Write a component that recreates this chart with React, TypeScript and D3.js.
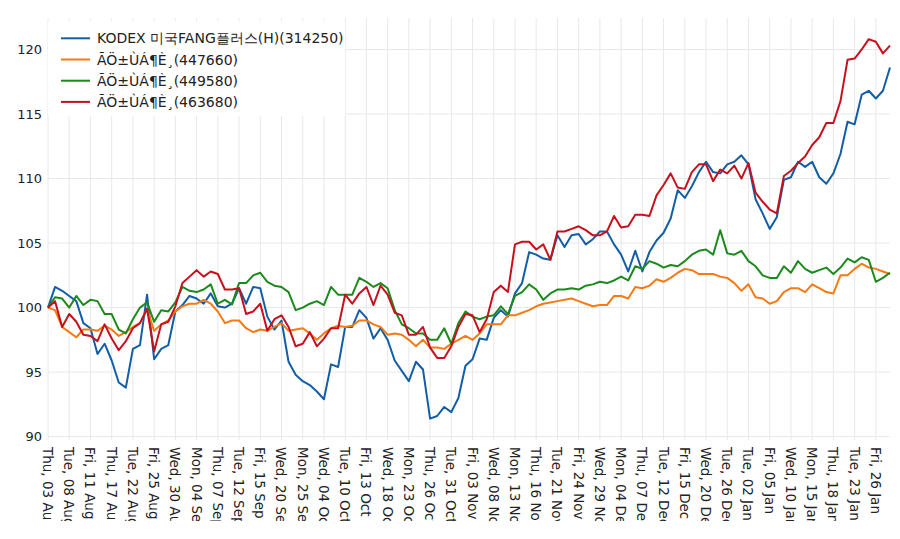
import React from 'react';
import * as d3 from 'd3';

const dates: string[] = [
  '2023-08-03','2023-08-04','2023-08-07','2023-08-08','2023-08-09','2023-08-10','2023-08-11','2023-08-14','2023-08-16','2023-08-17',
  '2023-08-18','2023-08-21','2023-08-22','2023-08-23','2023-08-24','2023-08-25','2023-08-28','2023-08-29','2023-08-30','2023-08-31',
  '2023-09-01','2023-09-04','2023-09-05','2023-09-06','2023-09-07','2023-09-08','2023-09-11','2023-09-12','2023-09-13','2023-09-14',
  '2023-09-15','2023-09-18','2023-09-19','2023-09-20','2023-09-21','2023-09-22','2023-09-25','2023-09-26','2023-09-27',
  '2023-10-04','2023-10-05','2023-10-06','2023-10-10','2023-10-11','2023-10-12','2023-10-13','2023-10-16','2023-10-17','2023-10-18',
  '2023-10-19','2023-10-20','2023-10-23','2023-10-24','2023-10-25','2023-10-26','2023-10-27','2023-10-30','2023-10-31',
  '2023-11-01','2023-11-02','2023-11-03','2023-11-06','2023-11-07','2023-11-08','2023-11-09','2023-11-10','2023-11-13','2023-11-14',
  '2023-11-15','2023-11-16','2023-11-17','2023-11-20','2023-11-21','2023-11-22','2023-11-23','2023-11-24','2023-11-27','2023-11-28',
  '2023-11-29','2023-11-30',
  '2023-12-01','2023-12-04','2023-12-05','2023-12-06','2023-12-07','2023-12-08','2023-12-11','2023-12-12','2023-12-13','2023-12-14',
  '2023-12-15','2023-12-18','2023-12-19','2023-12-20','2023-12-21','2023-12-22','2023-12-26','2023-12-27','2023-12-28',
  '2024-01-02','2024-01-03','2024-01-04','2024-01-05','2024-01-08','2024-01-09','2024-01-10','2024-01-11','2024-01-12','2024-01-15',
  '2024-01-16','2024-01-17','2024-01-18','2024-01-19','2024-01-22','2024-01-23','2024-01-24','2024-01-25','2024-01-26','2024-01-29',
  '2024-01-30',
];

const kodexFang: number[] = [
  100.0,101.6,101.3,100.9,100.5,98.8,98.4,96.4,97.2,95.9,
  94.2,93.8,96.8,97.1,101.0,96.0,96.8,97.1,99.7,100.2,
  100.9,100.7,100.3,101.1,100.1,100.0,100.3,101.5,100.3,101.6,
  101.5,99.3,98.3,99.0,95.8,94.8,94.3,94.0,93.5,92.9,
  95.6,95.4,98.5,98.5,99.8,99.2,97.6,98.4,97.5,95.9,
  95.1,94.3,95.8,95.2,91.4,91.6,92.3,91.9,93.0,95.5,
  96.0,97.6,97.5,99.2,99.8,99.3,101.1,101.9,104.3,104.1,
  103.8,103.7,105.6,104.7,105.6,105.7,104.9,105.3,105.9,105.9,
  104.9,104.1,102.8,104.4,102.8,104.3,105.2,105.8,106.9,109.1,
  108.5,109.4,110.5,111.3,110.5,110.4,111.1,111.3,111.8,111.1,
  108.4,107.3,106.1,107.0,109.9,110.1,111.3,110.9,111.3,110.1,
  109.6,110.4,111.9,114.4,114.2,116.5,116.8,116.2,116.8,118.6,
];

const s447660: number[] = [
  100.0,99.8,98.5,98.1,97.7,98.3,98.3,98.2,98.6,98.3,
  97.8,98.1,98.5,98.8,99.9,98.2,98.7,99.0,99.7,100.1,
  100.3,100.3,100.6,100.3,99.7,98.8,99.0,99.0,98.4,98.1,
  98.3,98.2,98.5,98.8,98.2,98.3,98.4,98.0,97.5,98.0,
  98.4,98.6,98.5,98.6,99.0,99.0,98.7,98.5,97.9,98.0,
  97.9,97.5,97.0,97.5,96.9,96.9,96.8,97.2,97.5,97.8,
  97.5,98.0,98.7,98.7,98.7,99.4,99.4,99.6,99.8,100.1,
  100.3,100.4,100.5,100.6,100.7,100.5,100.3,100.1,100.2,100.2,
  100.9,100.9,100.7,101.6,101.5,101.7,102.2,102.0,102.3,102.7,
  103.0,102.9,102.6,102.6,102.6,102.4,102.3,101.9,101.3,101.8,
  100.8,100.7,100.3,100.5,101.2,101.5,101.5,101.2,101.8,101.5,
  101.2,101.1,102.5,102.5,103.0,103.4,103.1,103.0,102.8,102.6,
];

const s449580: number[] = [
  100.0,100.8,100.7,100.0,100.9,100.2,100.6,100.5,99.5,99.5,
  98.3,98.0,99.1,100.0,100.4,98.9,99.8,99.7,100.4,101.6,
  101.3,101.2,101.4,101.8,100.3,100.6,100.25,101.9,101.9,102.5,
  102.7,102.0,101.7,101.6,101.2,99.8,100.0,100.3,100.5,100.2,
  101.6,101.0,101.0,101.0,102.3,102.0,101.6,101.9,101.5,99.8,
  98.7,98.4,98.0,98.0,97.5,97.5,98.4,97.2,98.8,99.7,
  99.3,99.1,99.3,99.4,100.1,99.5,100.9,101.2,101.8,101.4,
  100.6,101.1,101.4,101.4,101.5,101.4,101.7,101.8,102.0,101.9,
  102.1,102.4,102.1,103.2,103.0,103.6,103.4,103.1,103.3,103.2,
  103.6,104.1,104.4,104.5,104.1,106.0,104.2,104.1,104.4,103.6,
  103.2,102.5,102.3,102.3,103.2,102.7,103.6,103.0,102.7,102.9,
  103.1,102.6,103.1,103.8,103.5,103.9,103.7,102.0,102.3,102.7,
];

const s463680: number[] = [
  100.0,100.5,98.5,99.5,98.9,97.9,97.8,97.4,98.7,97.6,
  96.7,97.4,98.4,98.8,99.9,96.6,98.7,98.9,100.1,101.9,
  102.4,102.9,102.4,102.8,102.6,101.4,101.4,101.5,99.5,99.7,
  100.3,98.2,99.1,99.4,98.5,97.0,97.2,98.1,97.0,97.6,
  98.4,98.4,101.0,100.3,101.1,101.6,100.2,101.7,101.0,99.6,
  99.4,97.9,97.9,98.5,96.9,96.1,96.1,97.0,98.5,99.5,
  99.4,98.1,99.1,101.2,101.7,101.2,104.9,105.1,105.1,104.5,
  104.9,103.7,105.9,105.9,106.1,106.3,106.0,105.6,105.6,105.9,
  107.1,106.2,106.3,107.2,107.2,107.1,108.7,109.5,110.4,109.3,
  109.2,110.5,111.1,111.1,109.8,110.7,110.4,111.0,110.0,111.2,
  108.9,108.2,107.6,107.3,110.2,110.6,111.2,111.7,112.6,113.2,
  114.3,114.3,116.0,119.2,119.3,120.0,120.8,120.6,119.7,120.3,
];

const seriesNames: string[] = [
  'KODEX 미국FANG플러스(H)(314250)',
  'ÃÖ±ÙÁ¶È¸(447660)',
  'ÃÖ±ÙÁ¶È¸(449580)',
  'ÃÖ±ÙÁ¶È¸(463680)',
];
const seriesColors: string[] = ['#125ea6', '#f57a14', '#1c891c', '#c8101c'];
const yTickValues: number[] = [90, 95, 100, 105, 110, 115, 120];
const tickEvery = 3;

const W = 900;
const H = 539;
const M = { left: 48, right: 890, top: 18, bottom: 440 };
const FONT = '"DejaVu Sans", Verdana, sans-serif';

export default function App() {
  const allSeries = [kodexFang, s447660, s449580, s463680];
  const x = d3.scalePoint<string>().domain(dates).range([M.left, M.right]);
  const y = d3.scaleLinear().domain([89.74, 122.44]).range([M.bottom, M.top]);
  const parse = d3.timeParse('%Y-%m-%d');
  const fmt = d3.timeFormat('%a, %d %b');
  const xTicks = dates.filter((_, i) => i % tickEvery === 0);
  const line = d3
    .line<number>()
    .x((_, i) => x(dates[i]) as number)
    .y((d) => y(d));

  const legendX = M.left;
  const legendY = 21;
  const legendW = 297;
  const legendH = 95;
  const rowH = 21.2;

  return (
    <svg
      width={W}
      height={H}
      style={{ position: 'absolute', left: 0, top: 0, background: '#fff' }}
      fontFamily={FONT}
    >
      <defs>
        <clipPath id="xlabclip">
          <rect x={0} y={M.bottom} width={W} height={521 - M.bottom} />
        </clipPath>
      </defs>
      <rect x={0} y={0} width={W} height={H} fill="#fff" />
      <g>
        {xTicks.map((d) => (
          <line
            key={'gx' + d}
            x1={x(d)}
            x2={x(d)}
            y1={M.top}
            y2={M.bottom}
            stroke="#e8e8e8"
            strokeWidth={1}
          />
        ))}
        {yTickValues.map((v) => (
          <line
            key={'gy' + v}
            x1={M.left}
            x2={M.right}
            y1={y(v)}
            y2={y(v)}
            stroke="#e8e8e8"
            strokeWidth={1}
          />
        ))}
      </g>
      <g fontSize={13} fill="#222">
        {yTickValues.map((v) => (
          <text key={'yt' + v} x={42} y={y(v)} textAnchor="end" dominantBaseline="central">
            {v}
          </text>
        ))}
      </g>
      <g fontSize={13.5} fill="#222" clipPath="url(#xlabclip)">
        {xTicks.map((d) => {
          const px = x(d) as number;
          return (
            <text
              key={'xt' + d}
              transform={`translate(${px},447) rotate(90)`}
              textAnchor="start"
              dominantBaseline="central"
            >
              {fmt(parse(d) as Date)}
            </text>
          );
        })}
      </g>
      <g fill="none" strokeWidth={2} strokeLinejoin="round">
        {allSeries.map((s, k) => (
          <path key={'l' + k} d={line(s) || ''} stroke={seriesColors[k]} />
        ))}
      </g>
      <g>
        <rect x={legendX} y={legendY} width={legendW} height={legendH} fill="#fff" />
        {seriesNames.map((n, k) => {
          const cy = 38.3 + k * rowH;
          return (
            <g key={'lg' + k}>
              <line x1={61} x2={90} y1={cy} y2={cy} stroke={seriesColors[k]} strokeWidth={2} />
              <text x={97} y={cy} fontSize={14} fill="#222" dominantBaseline="central">
                {n}
              </text>
            </g>
          );
        })}
      </g>
    </svg>
  );
}
